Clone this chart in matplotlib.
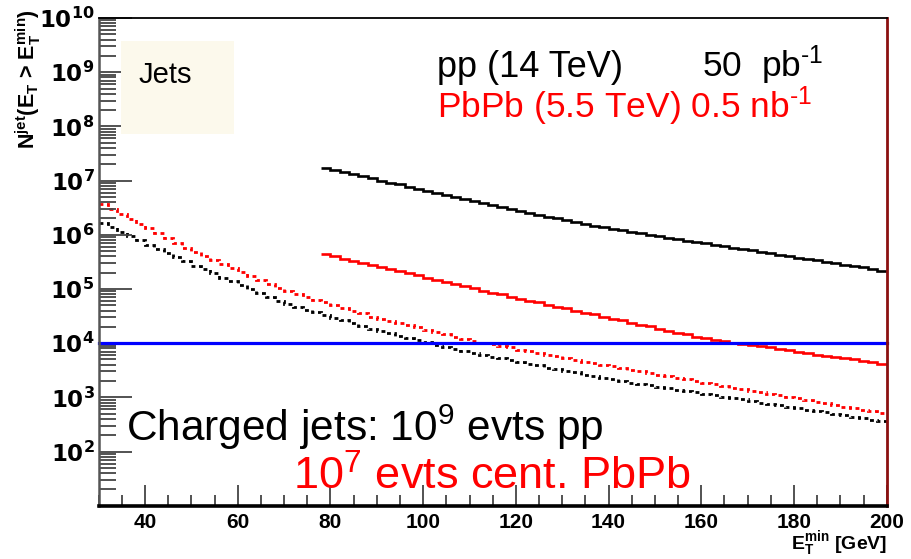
import numpy as np
import matplotlib
matplotlib.use("Agg")
import matplotlib.pyplot as plt
from matplotlib.patches import Rectangle
from matplotlib.ticker import MultipleLocator, LogLocator, FuncFormatter, NullFormatter

plt.rcParams['font.family'] = ['Liberation Sans', 'DejaVu Sans']
plt.rcParams['mathtext.default'] = 'regular'

# bin edges (GeV)
edges_charged = np.arange(30, 201, 2)
edges_full = np.arange(78, 201, 2)

# log10 of N(>E_T), one value per 2 GeV bin
pbpb_charged_log = [
    6.56, 6.47, 6.38, 6.29, 6.20, 6.12, 6.03, 5.94, 5.85, 5.76,
    5.68, 5.61, 5.53, 5.46, 5.39, 5.31, 5.24, 5.16, 5.09, 5.02,
    4.96, 4.91, 4.86, 4.80, 4.75, 4.70, 4.65, 4.60, 4.55, 4.49,
    4.45, 4.41, 4.37, 4.33, 4.29, 4.25, 4.20, 4.16, 4.12, 4.08,
    4.04, 4.01, 3.98, 3.95, 3.92, 3.88, 3.85, 3.82, 3.79, 3.76,
    3.72, 3.69, 3.66, 3.63, 3.60,
    3.57, 3.54, 3.51, 3.48, 3.45, 3.42, 3.39, 3.36, 3.33, 3.30,
    3.27, 3.24, 3.21, 3.18, 3.15, 3.12, 3.09, 3.06, 3.04, 3.01,
    2.98, 2.95, 2.92, 2.89, 2.86, 2.83, 2.80, 2.77, 2.74, 2.71]
pp_charged_log = [
    6.22, 6.14, 6.06, 5.98, 5.90, 5.82, 5.74, 5.66, 5.59, 5.51,
    5.43, 5.36, 5.29, 5.21, 5.14, 5.07, 4.99, 4.92, 4.85, 4.78,
    4.72, 4.67, 4.62, 4.57, 4.52, 4.47, 4.42, 4.37, 4.32, 4.27,
    4.23, 4.19, 4.14, 4.10, 4.06, 4.02, 3.97, 3.93, 3.89, 3.85,
    3.81, 3.78, 3.75, 3.72, 3.68, 3.65, 3.62, 3.59, 3.55, 3.52,
    3.49, 3.46, 3.42, 3.39, 3.36,
    3.33, 3.30, 3.27, 3.25, 3.22, 3.19, 3.17, 3.14, 3.12, 3.09,
    3.06, 3.04, 3.01, 2.98, 2.96, 2.93, 2.90, 2.88, 2.85, 2.82,
    2.80, 2.77, 2.74, 2.72, 2.69, 2.67, 2.64, 2.61, 2.59, 2.56]
pp_full_log = [
    7.23, 7.19, 7.16, 7.12, 7.08, 7.04, 7.00, 6.96, 6.93, 6.89,
    6.85, 6.81, 6.77, 6.74, 6.70, 6.66, 6.62, 6.58, 6.55, 6.51, 6.47,
    6.43, 6.40, 6.37, 6.33, 6.30, 6.27, 6.23, 6.20, 6.17, 6.14,
    6.11, 6.08, 6.05, 6.03, 6.00, 5.97, 5.94, 5.92, 5.89, 5.86,
    5.84, 5.81, 5.79, 5.76, 5.73, 5.71, 5.68, 5.66, 5.63, 5.60,
    5.58, 5.55, 5.53, 5.50, 5.47, 5.45, 5.42, 5.40, 5.37, 5.34]
pbpb_full_log = [
    5.64, 5.60, 5.56, 5.52, 5.48, 5.45, 5.41, 5.37, 5.33, 5.29,
    5.25, 5.21, 5.17, 5.13, 5.09, 5.05, 5.01, 4.97, 4.93, 4.90, 4.86,
    4.82, 4.78, 4.75, 4.71, 4.67, 4.64, 4.60, 4.56, 4.53, 4.49,
    4.45, 4.42, 4.38, 4.34, 4.31, 4.27, 4.23, 4.19, 4.16, 4.12,
    4.09, 4.06, 4.04, 4.01, 3.99, 3.96, 3.94, 3.92, 3.89, 3.87,
    3.84, 3.82, 3.79, 3.77, 3.75, 3.72, 3.70, 3.67, 3.65, 3.62]
threshold = 1e4

fig = plt.figure(figsize=(9.12, 5.59), dpi=100)
W, H = 912, 559
ax = fig.add_axes([98.7 / W, 1 - 505.7 / H, 788 / W, 487.7 / H])

ax.stairs(10 ** np.array(pp_full_log), edges_full, color='black', lw=1.9, baseline=None)
ax.stairs(10 ** np.array(pbpb_full_log), edges_full, color='#ff0000', lw=1.9, baseline=None)
ax.stairs(10 ** np.array(pbpb_charged_log), edges_charged, color='#ff0000', lw=2.0,
          linestyle=(0, (1.4, 1.3)), baseline=None)
ax.stairs(10 ** np.array(pp_charged_log), edges_charged, color='black', lw=2.0,
          linestyle=(0, (1.4, 1.3)), baseline=None)
ax.axhline(threshold, color='#0000ff', lw=2.3, clip_on=False)

ax.set_yscale('log')
ax.set_xlim(30, 200)
ax.set_ylim(10, 1e10)

ax.xaxis.set_major_locator(MultipleLocator(20))
ax.xaxis.set_minor_locator(MultipleLocator(5))
ax.yaxis.set_major_locator(LogLocator(base=10, numticks=20))
ax.yaxis.set_minor_locator(LogLocator(base=10, subs=np.arange(2, 10), numticks=20))
ax.yaxis.set_major_formatter(FuncFormatter(
    lambda v, p: '' if v < 50 else r'$\mathbf{10^{%d}}$' % round(np.log10(v))))
ax.yaxis.set_minor_formatter(NullFormatter())

ax.tick_params(axis='y', which='major', direction='in', length=24, width=1.3,
               color='#444444', labelsize=16.5, pad=3)
ax.tick_params(axis='y', which='minor', direction='in', length=12, width=1.3, color='#444444')
ax.tick_params(axis='x', which='major', direction='in', length=15, width=1.3,
               color='#444444', labelsize=15, pad=5)
ax.tick_params(axis='x', which='minor', direction='in', length=8, width=1.3, color='#444444')
for lab in ax.get_xticklabels():
    lab.set_fontweight('bold')

ax.spines['left'].set_color('#555555')
ax.spines['left'].set_linewidth(1.8)
ax.spines['bottom'].set_linewidth(2.6)
ax.spines['top'].set_linewidth(1.3)
ax.spines['right'].set_color('#8b1010')
ax.spines['right'].set_linewidth(2.0)

# Jets box
fig.patches.append(Rectangle((121 / W, 1 - 134 / H), 113 / W, 93 / H,
                             transform=fig.transFigure, facecolor='#fcf9ec',
                             edgecolor='none', zorder=0))
fig.text(139 / W, 1 - 83 / H, 'Jets', fontsize=21, va='baseline')

fig.text(437 / W, 1 - 77 / H, 'pp (14 TeV)', fontsize=26, va='baseline')
fig.text(702 / W, 1 - 77 / H, '50  pb$^{\u20101}$', fontsize=25.5, va='baseline')
fig.text(437 / W, 1 - 118 / H, 'PbPb (5.5 TeV) 0.5 nb$^{\u20101}$', fontsize=25.5,
         va='baseline', color='#ff0000')

fig.text(126 / W, 1 - 441 / H, r'Charged jets: 10$^{9}$ evts pp', fontsize=30.5, va='baseline')
fig.text(293 / W, 1 - 490 / H, r'10$^{7}$ evts cent. PbPb', fontsize=32.5,
         va='baseline', color='#ff0000')

fig.text(887 / W, 1 - 549 / H, r'E$_T^{min}$ [GeV]', fontsize=14, fontweight='bold',
         ha='right', va='baseline')
fig.text(28 / W, 1 - 9 / H, r'N$^{jet}$(E$_T$ > E$_T^{min}$)', fontsize=15.5,
         fontweight='bold', rotation=90, ha='center', va='top')

fig.savefig('out.png', dpi=100)
